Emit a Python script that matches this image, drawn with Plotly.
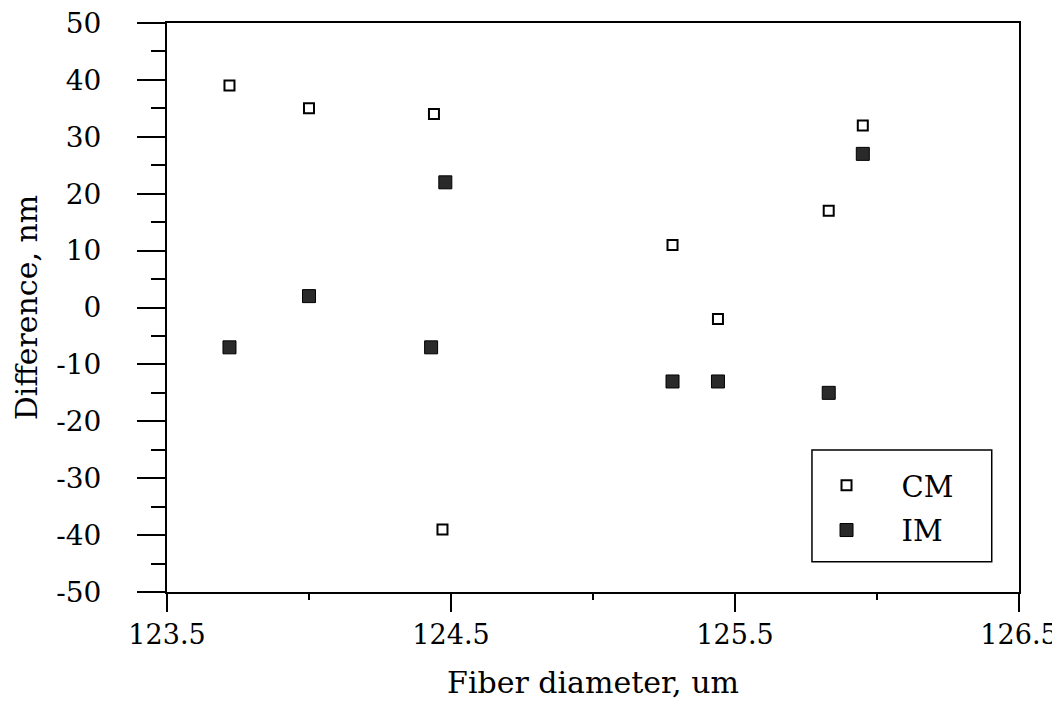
import plotly.graph_objects as go

cm_x = [123.72, 124.0, 124.44, 124.47, 125.28, 125.44, 125.83, 125.95]
cm_y = [39, 35, 34, -39, 11, -2, 17, 32]
im_x = [123.72, 124.0, 124.48, 124.43, 125.28, 125.44, 125.83, 125.95]
im_y = [-7, 2, 22, -7, -13, -13, -15, 27]

x_ticks = [123.5, 124.5, 125.5, 126.5]
y_ticks = [50, 40, 30, 20, 10, 0, -10, -20, -30, -40, -50]

font_fam = "DejaVu Serif, Liberation Serif, serif"

fig = go.Figure()
fig.add_trace(go.Scatter(
    x=cm_x, y=cm_y, mode="markers", name="CM", legendgroup="cm",
    marker=dict(symbol="square", size=10, color="white",
                line=dict(color="black", width=2))))
fig.add_trace(go.Scatter(
    x=im_x, y=im_y, mode="markers", name="IM", legendgroup="im",
    marker=dict(symbol="square", size=13, color="#2a2a2a",
                line=dict(color="black", width=1))))

# legend frame
fig.add_shape(type="rect", xref="paper", yref="paper",
              x0=0.757, x1=0.968, y0=0.053, y1=0.2496,
              line=dict(color="black", width=1.5), fillcolor="white",
              layer="below")

fig.update_layout(
    width=1060, height=705,
    paper_bgcolor="white", plot_bgcolor="white",
    margin=dict(l=159, r=49, t=15, b=121),
    font=dict(family=font_fam, size=28, color="black"),
    showlegend=True,
    legend=dict(x=0.733, y=0.232, xanchor="left", yanchor="top",
                borderwidth=0, bgcolor="rgba(0,0,0,0)",
                font=dict(size=29, family=font_fam),
                itemwidth=100, tracegroupgap=4),
    xaxis=dict(range=[123.5, 126.5], tickvals=x_ticks,
               ticktext=[f"{v:.1f}" for v in x_ticks],
               ticks="outside", ticklen=18, tickwidth=1.5, tickcolor="black",
               minor=dict(dtick=0.5, tick0=123.5, ticks="outside", ticklen=6,
                          tickwidth=1.5, tickcolor="black"),
               showline=True, linecolor="black", linewidth=2, mirror=True,
               showgrid=False, zeroline=False, automargin=False,
               ticklabeloverflow="allow",
               title=dict(text="Fiber diameter, um", standoff=23,
                          font=dict(size=30)),
               tickfont=dict(size=27)),
    yaxis=dict(range=[-50, 50], tickvals=y_ticks,
               ticktext=[str(v) for v in y_ticks],
               ticks="outside", ticklen=28, tickwidth=1.5, tickcolor="black",
               minor=dict(dtick=5, tick0=0, ticks="outside", ticklen=14,
                          tickwidth=1.5, tickcolor="black"),
               ticklabelstandoff=30, ticklabeloverflow="allow",
               showline=True, linecolor="black", linewidth=2, mirror=True,
               showgrid=False, zeroline=False, automargin=False,
               title=dict(text="Difference, nm", standoff=10,
                          font=dict(size=30)),
               tickfont=dict(size=28)),
)

fig.write_html("out.html")
